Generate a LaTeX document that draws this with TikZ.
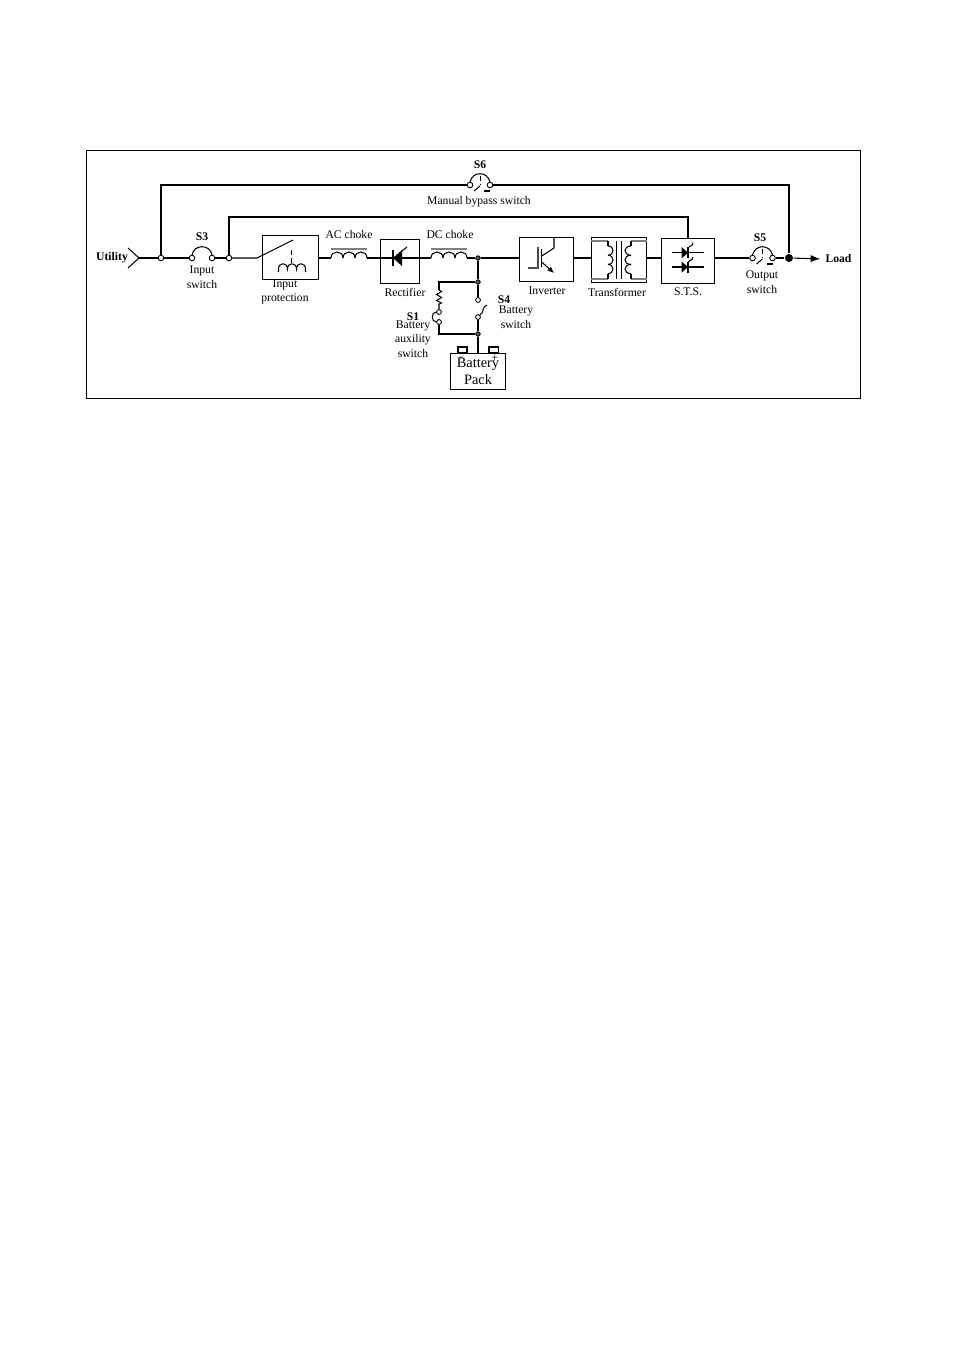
\documentclass[tikz,border=0pt]{standalone}
\usepackage{fontspec}
\setmainfont{Liberation Serif}
\usetikzlibrary{arrows.meta}
\tikzset{term/.style = {draw, fill=white, circle, inner sep=0, minimum size=3.5pt, line width=0.55pt}}
\tikzset{jdot/.style = {draw, fill=black!65, circle, inner sep=0, minimum size=2.8pt, line width=0.55pt}}
\tikzset{bigdot/.style = {fill, circle, inner sep=0, minimum size=5pt}}
\tikzset{blk/.style = {draw, minimum width=34pt, minimum height=28.1pt, inner sep=0}}
\tikzset{lbl/.style = {font=\fontsize{7.3}{9.2}\selectfont, align=center, inner sep=0}}
\tikzset{sw/.style = {lbl, font=\fontsize{7.3}{9.2}\selectfont\bfseries}}
\tikzset{batline/.style = {line width=1pt}}
\tikzset{cbrk/.pic = {
    \node [term] (-a) at (-10, 0) {};
    \node [term] (-b) at (10, 0) {};
    \draw (-a.north) .. controls (-7, -14) and (7, -14) .. (-b.north);
    \draw [densely dashed, line width=0.45pt] (0, -9) -- (0, 0);
    \draw (-6, 6) -- (0, 1);
    \draw (4, 6) -- (10, 6);
  }}

\begin{document}
\begin{tikzpicture}[x=0.022cm, y=-0.022cm, line width=0.65pt]
  \useasboundingbox (0, 0) rectangle (954, 1351);
  \draw [line width=0.6pt] (86, 150) rectangle (860, 398);
  \coordinate (m) at (0, 258);
  \coordinate (bp2) at (0, 217);

  % utility side and input switch
  \node [sw] (utl) at (112, 258) {Utility};
  \coordinate (utip) at (139, 258);
  \draw (128, 248) -- (utip) -- (128, 268);
  \node [term] (t0) at (161, 258) {};
  \node [term] (s3a) at (192, 258) {};
  \node [term] (s3b) at (212, 258) {};
  \node [term] (t3) at (229, 258) {};
  \draw (utip) -- (t0) -- (s3a);
  \draw (s3a.north) .. controls (194, 244) and (210, 244) .. (s3b.north);
  \draw (s3b) -- (t3);
  \node [sw] (ls3) at (202, 237) {S3};
  \node [lbl] (ls3t) at (202, 277.5) {Input\\switch};

  % blocks
  \node [blk, minimum width=34.7pt] (ip) at (290.5, 257.5) {};
  \node [blk, minimum width=24.9pt] (rect) at (400, 261.5) {};
  \node [blk, minimum width=34.3pt] (inv) at (546.5, 259.5) {};
  \node [blk, minimum width=34.9pt, minimum height=28.7pt] (trf) at (619, 260) {};
  \node [blk, minimum width=33.4pt, minimum height=28.7pt] (sts) at (688, 261) {};
  \node [lbl] (lip) at (285, 292) {Input\\protection};
  \node [lbl] (lrect) at (405, 292) {Rectifier};
  \node [lbl] (linv) at (547, 291) {Inverter};
  \node [lbl] (ltrf) at (617, 292) {Transformer};
  \node [lbl] (lsts) at (688, 292) {S.T.S.};

  % input protection
  \coordinate (ipsw) at (257, 258);
  \draw (t3) -- (ipsw) -- (293, 240);
  \draw [densely dashed, line width=0.45pt] (291.7, 250) -- (291.7, 262.5);
  \draw (278.5, 272) -- (278.5, 269)
    .. controls (278.5, 262) and (287.5, 262) .. (287.5, 269)
    .. controls (287.5, 262) and (296.5, 262) .. (296.5, 269)
    .. controls (296.5, 262) and (305.5, 262) .. (305.5, 269) -- (305.5, 272);

  % chokes
  \foreach \x in {331, 343, 355, 431, 443, 455}
    \draw (\x, 258) .. controls +(0, -8) and +(0, -8) .. +(12, 0);
  \draw [gray, line width=1.4pt] (331, 249) -- (367, 249);
  \draw [gray, line width=1.4pt] (431, 249) -- (467, 249);
  \node [lbl] (lac) at (349, 235) {AC choke};
  \node [lbl] (ldc) at (450, 235) {DC choke};
  \draw (ip.east |- m) -- (331, 258);
  \draw (367, 258) -- (rect.west |- m);

  % rectifier
  \draw (rect.west |- m) -- (rect.east |- m);
  \fill (393, 258) -- (402, 250) -- (402, 266) -- cycle;
  \draw (393, 250) -- (393, 266);
  \draw (402, 251) -- (407, 247);
  \draw (rect.east |- m) -- (431, 258);

  % inverter
  \node [jdot] (n1) at (478, 258) {};
  \draw (467, 258) -- (n1) -- (inv.west |- m);
  \draw [line width=1.1pt, black!70] (528, 268) -- (538, 268) -- (538, 247);
  \draw (541.7, 249) -- (541.7, 267);
  \draw (541.7, 256) -- (554, 248) -- (554, 237);
  \draw [-{Latex[length=4pt, width=3.5pt]}] (541.7, 262) -- (554, 273);
  \draw (inv.east |- m) -- (trf.west |- m);

  % transformer
  \draw [gray, line width=1.1pt] (591, 241) -- (608, 241) (591, 279) -- (608, 279)
    (631, 241) -- (647, 241) (631, 279) -- (647, 279);
  \foreach \y in {246, 255.2, 264.4} {
    \draw (608, \y) .. controls +(6.7, 0) and +(6.7, 0) .. +(0, 9.2);
    \draw (631, \y) .. controls +(-8, 0) and +(-8, 0) .. +(0, 9.2);
  }
  \draw (608, 241) -- (608, 246) (608, 273.6) -- (608, 279);
  \draw (631, 241) -- (631, 246) (631, 273.6) -- (631, 279);
  \draw (616.3, 241) -- (616.3, 279) (621.3, 241) -- (621.3, 279);
  \draw (trf.east |- m) -- (sts.west |- m);

  % static transfer switch
  \foreach \y in {252.7, 267} {
    \draw (672, \y) -- (704, \y);
    \fill (681.7, \y-5.5) -- (688, \y) -- (681.7, \y+5.5) -- cycle;
    \draw (688, \y-5.5) -- (688, \y+5.5);
    \draw (688, \y-5) -- (692.5, \y-8) -- (692.5, \y-10);
  }

  % output switch and load
  \pic (s5) at (762.5, 258) {cbrk};
  \node [bigdot] (odot) at (789, 258) {};
  \draw (sts.east |- m) -- (s5-a);
  \draw (s5-b) -- (odot);
  \node [sw, anchor=west] (load) at (825, 259) {Load};
  \draw [-{Latex[length=6pt, width=4.5pt]}, shorten >=3pt] (odot) -- (load.west);
  \node [sw] (ls5) at (760, 238) {S5};
  \node [lbl] (ls5t) at (762, 282.5) {Output\\switch};

  % bypass lines
  \pic (s6) at (480, 185) {cbrk};
  \draw (t0) |- (s6-a);
  \draw (s6-b) -| (odot);
  \node [sw] (ls6) at (480, 165) {S6};
  \node [lbl] (ls6t) at (479, 202) {Manual bypass switch};
  \draw (t3) |- (sts.north |- bp2) -- (sts.north);

  % battery branch
  \node [jdot] (n2) at (478, 282) {};
  \node [jdot] (n3) at (478, 334) {};
  \node [term, minimum size=3pt] (s4a) at (478, 300) {};
  \node [term, minimum size=3pt] (s4b) at (478, 317) {};
  \node [term, minimum size=3pt] (s1a) at (439, 312) {};
  \node [term, minimum size=3pt] (s1b) at (439, 322) {};
  \node [blk, minimum width=33.9pt, minimum height=23.1pt,
         font=\fontsize{9}{10.6}\selectfont, align=center] (bat) at (478, 371.5) {Battery\\Pack};
  \coordinate (rz1) at (439, 290);
  \coordinate (rz2) at (439, 304);
  \draw [batline] (n1) -- (n2) -- (s4a);
  \draw [batline] (s4b) -- (n3) -- (bat.north);
  \draw [batline] (n2) -| (rz1);
  \draw (rz1) -- (441.5, 291.5) -- (436.5, 294.5) -- (441.5, 297.5)
    -- (436.5, 300.5) -- (441.5, 303) -- (rz2) -- (s1a);
  \draw (s1a.west) .. controls (431, 312) and (431, 322) .. (s1b.west);
  \draw [batline] (s1b) |- (n3);
  \draw (s4b.north east) .. controls (484, 313) and (482, 306) .. (487, 305);
  \draw (458, 353) rectangle (467, 347);
  \draw (489, 353) rectangle (498.7, 347);
  \node [lbl] (bminus) at (461, 359) {-};
  \node [lbl] (bplus) at (495, 358) {+};
  \node [sw] (ls1) at (413, 317) {S1};
  \node [lbl] (ls1t) at (413, 339) {Battery\\auxility\\switch};
  \node [sw] (ls4) at (504, 300) {S4};
  \node [lbl] (ls4t) at (516, 317) {Battery\\switch};
\end{tikzpicture}
\end{document}
